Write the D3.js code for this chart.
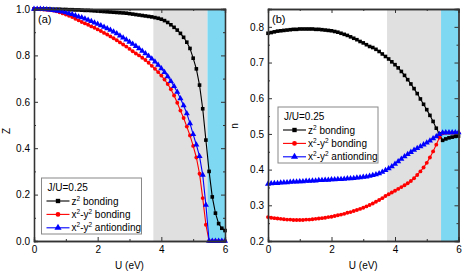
<!DOCTYPE html>
<html><head><meta charset="utf-8">
<script src="https://cdn.jsdelivr.net/npm/d3@7"></script>
<style>
body{margin:0;background:#fff;}
svg{display:block;font-family:"Liberation Sans",Arial,sans-serif;}
</style></head>
<body><svg id="c" width="463" height="273"></svg>
<script>
// ---- data ----
const U = [0.0,0.1,0.2,0.3,0.4,0.5,0.6,0.7,0.8,0.9,1.0,1.1,1.2,1.3,1.4,1.5,1.6,1.7,1.8,1.9,2.0,
  2.1,2.2,2.3,2.4,2.5,2.6,2.7,2.8,2.9,3.0,3.1,3.2,3.3,3.4,3.5,3.6,3.7,3.8,3.9,4.0,
  4.1,4.2,4.3,4.4,4.5,4.6,4.7,4.8,4.9,5.0,5.1,5.2,5.3,5.4,5.5,5.6,5.7,5.8,5.9,6.0];

const seriesNames = ["z² bonding", "x²-y² bonding", "x²-y² antionding"];
const legendTitle = "J/U=0.25";
const phaseBounds = [3.75, 5.45, 6.0]; // crossover (gray) and Mott (cyan) regions

// panel (a): quasiparticle weight Z
const Z_z2 = [1.000,1.000,1.000,1.000,1.000,1.000,0.999,0.999,0.999,0.998,0.998,
  0.997,0.997,0.996,0.996,0.995,0.994,0.994,0.993,0.992,0.991,
  0.990,0.989,0.988,0.987,0.986,0.985,0.984,0.983,0.982,0.980,
  0.978,0.976,0.974,0.972,0.970,0.968,0.966,0.963,0.960,0.956,
  0.950,0.942,0.932,0.921,0.909,0.895,0.878,0.857,0.830,0.788,
  0.742,0.672,0.570,0.435,0.300,0.190,0.120,0.075,0.055,0.045];
const Z_x2b = [1.000,1.000,0.999,0.998,0.997,0.995,0.993,0.990,0.986,0.981,0.976,
  0.971,0.965,0.958,0.951,0.944,0.938,0.932,0.925,0.919,0.912,
  0.905,0.897,0.890,0.882,0.874,0.865,0.856,0.847,0.838,0.828,
  0.818,0.808,0.800,0.790,0.780,0.768,0.755,0.742,0.728,0.713,
  0.696,0.677,0.654,0.627,0.596,0.562,0.530,0.493,0.455,0.410,
  0.360,0.290,0.185,0.070,0.000,0.000,0.000,0.000,0.000,0.000];
const Z_x2a = [1.000,1.000,1.000,0.999,0.998,0.997,0.995,0.993,0.991,0.988,0.985,
  0.981,0.977,0.972,0.967,0.963,0.958,0.953,0.947,0.941,0.935,
  0.929,0.922,0.916,0.909,0.902,0.894,0.885,0.876,0.867,0.858,
  0.849,0.840,0.830,0.819,0.808,0.797,0.786,0.773,0.759,0.744,
  0.727,0.709,0.689,0.667,0.642,0.614,0.584,0.550,0.507,0.460,
  0.415,0.365,0.285,0.155,0.000,0.000,0.000,0.000,0.000,0.000];

// panel (b): orbital occupation n
const n_z2 = [0.782,0.784,0.786,0.788,0.789,0.790,0.791,0.792,0.793,0.793,0.794,
  0.794,0.794,0.794,0.794,0.793,0.793,0.792,0.791,0.790,0.789,
  0.787,0.785,0.782,0.779,0.776,0.772,0.768,0.764,0.759,0.755,
  0.750,0.745,0.742,0.737,0.731,0.724,0.717,0.710,0.702,0.694,
  0.685,0.675,0.664,0.652,0.640,0.627,0.613,0.598,0.583,0.568,
  0.552,0.535,0.516,0.500,0.482,0.486,0.489,0.491,0.493,0.494];
const n_x2b = [0.267,0.265,0.264,0.263,0.262,0.261,0.260,0.260,0.259,0.259,0.259,
  0.259,0.260,0.260,0.261,0.262,0.263,0.264,0.265,0.267,0.268,
  0.270,0.272,0.274,0.276,0.279,0.281,0.284,0.287,0.290,0.293,
  0.297,0.301,0.305,0.310,0.315,0.320,0.326,0.331,0.336,0.341,
  0.346,0.351,0.356,0.362,0.368,0.376,0.385,0.395,0.406,0.419,
  0.434,0.451,0.470,0.490,0.502,0.503,0.503,0.503,0.503,0.503];
const n_x2a = [0.360,0.361,0.362,0.362,0.363,0.364,0.364,0.365,0.366,0.366,0.367,
  0.367,0.368,0.368,0.369,0.369,0.370,0.370,0.371,0.371,0.372,
  0.372,0.373,0.373,0.374,0.375,0.375,0.376,0.377,0.378,0.379,
  0.380,0.382,0.384,0.386,0.389,0.393,0.398,0.403,0.409,0.416,
  0.423,0.430,0.437,0.443,0.449,0.455,0.460,0.465,0.470,0.475,
  0.481,0.487,0.493,0.499,0.503,0.504,0.504,0.504,0.504,0.504];

const xTicks = [0, 2, 4, 6];
const xMinor = [1, 3, 5];
const yTicksA = [0.0, 0.2, 0.4, 0.6, 0.8, 1.0];
const yMinorA = [0.1, 0.3, 0.5, 0.7, 0.9];
const yTicksB = [0.2, 0.3, 0.4, 0.5, 0.6, 0.7, 0.8];
const yMinorB = [0.25, 0.35, 0.45, 0.55, 0.65, 0.75];

// ---- drawing ----
const svg = d3.select("#c");
const colors = ["#000000", "#ff0000", "#0000ff"];
const shapes = [d3.symbolSquare, d3.symbolCircle, d3.symbolTriangle];
const sizes = [13, 12, 16];
const frameColor = "#333";

function panel(opt) {
  const g = svg.append("g");
  const x = d3.scaleLinear().domain([0, 6]).range([opt.x0, opt.x1]);
  const y = d3.scaleLinear().domain(opt.ydom).range([opt.y1, opt.y0]);

  g.append("rect").attr("x", x(phaseBounds[0])).attr("y", opt.y0)
    .attr("width", x(phaseBounds[1]) - x(phaseBounds[0])).attr("height", opt.y1 - opt.y0)
    .attr("fill", "#e0e0e0");
  g.append("rect").attr("x", x(phaseBounds[1])).attr("y", opt.y0)
    .attr("width", x(phaseBounds[2]) - x(phaseBounds[1])).attr("height", opt.y1 - opt.y0)
    .attr("fill", "#7fd8f1");

  const fmtY = d3.format(".1f");
  const axes = [
    [d3.axisBottom(x).tickValues(xTicks).tickSize(-4).tickPadding(5).tickFormat(d3.format("d")), `translate(0,${opt.y1})`],
    [d3.axisBottom(x).tickValues(xMinor).tickSize(-2).tickFormat(""), `translate(0,${opt.y1})`],
    [d3.axisTop(x).tickValues(xTicks).tickSize(-4).tickFormat(""), `translate(0,${opt.y0})`],
    [d3.axisTop(x).tickValues(xMinor).tickSize(-2).tickFormat(""), `translate(0,${opt.y0})`],
    [d3.axisLeft(y).tickValues(opt.yt).tickSize(-4).tickPadding(4).tickFormat(fmtY), `translate(${opt.x0},0)`],
    [d3.axisLeft(y).tickValues(opt.ym).tickSize(-2).tickFormat(""), `translate(${opt.x0},0)`],
    [d3.axisRight(y).tickValues(opt.yt).tickSize(-4).tickFormat(""), `translate(${opt.x1},0)`],
    [d3.axisRight(y).tickValues(opt.ym).tickSize(-2).tickFormat(""), `translate(${opt.x1},0)`]
  ];

  opt.series.forEach((vals, i) => {
    const pts = U.map((u, k) => [u, vals[k]]);
    g.append("path").datum(pts)
      .attr("fill", "none").attr("stroke", colors[i]).attr("stroke-width", 1.1)
      .attr("d", d3.line().x(d => x(d[0])).y(d => y(d[1])));
    g.append("g").selectAll("path").data(pts).join("path")
      .attr("transform", d => `translate(${x(d[0])},${y(d[1])})`)
      .attr("d", d3.symbol().type(shapes[i]).size(sizes[i]))
      .attr("fill", colors[i]);
  });

  axes.forEach(([ax, tr]) => {
    const a = g.append("g").attr("transform", tr).call(ax);
    a.select(".domain").attr("stroke", frameColor).attr("stroke-width", 1.3);
    a.selectAll(".tick line").attr("stroke", frameColor).attr("stroke-width", 1);
    a.selectAll("text").attr("font-size", 10).attr("fill", "#000")
      .attr("font-family", "'Liberation Sans', Arial, sans-serif");
  });

  g.append("text").attr("x", opt.x0 + 4).attr("y", opt.y0 + 14)
    .attr("font-size", 11).text(opt.label);

  g.append("text").attr("x", (opt.x0 + opt.x1) / 2).attr("y", 269)
    .attr("text-anchor", "middle").attr("font-size", 10).text("U (eV)");
  g.append("text")
    .attr("transform", `translate(${opt.ylabX},${opt.ylabY}) rotate(-90)`)
    .attr("text-anchor", "middle").attr("font-size", 10).text(opt.ylabel);

  const lg = g.append("g").attr("transform", `translate(${opt.lx},${opt.ly})`);
  lg.append("rect").attr("x", 0).attr("y", 0).attr("width", 100).attr("height", 56)
    .attr("fill", "#fff").attr("stroke", "#888").attr("stroke-width", 1);
  lg.append("text").attr("x", 6).attr("y", 12.5).attr("font-size", 10).text(legendTitle);
  seriesNames.forEach((name, i) => {
    const yy = 23 + i * 13.4;
    lg.append("line").attr("x1", 5).attr("x2", 28).attr("y1", yy).attr("y2", yy)
      .attr("stroke", colors[i]).attr("stroke-width", 1.1);
    lg.append("path").attr("transform", `translate(16.5,${yy})`)
      .attr("d", d3.symbol().type(shapes[i]).size(sizes[i] + 6)).attr("fill", colors[i]);
    const t = lg.append("text").attr("x", 30).attr("y", yy + 3.6).attr("font-size", 10);
    const parts = name.split("²");
    parts.forEach((p, k) => {
      const ts = t.append("tspan").text(p);
      if (k > 0) ts.attr("dy", 4);
      if (k < parts.length - 1) {
        t.append("tspan").attr("font-size", 6.5).attr("dy", -4).text("2");
      }
    });
  });
}

panel({
  x0: 34, x1: 225, y0: 9, y1: 241, ydom: [0, 1.0],
  yt: yTicksA, ym: yMinorA, label: "(a)", ylabel: "Z", ylabX: 10, ylabY: 131,
  series: [Z_z2, Z_x2b, Z_x2a], lx: 41.5, ly: 178
});
panel({
  x0: 268, x1: 458.5, y0: 9, y1: 241, ydom: [0.2, 0.85],
  yt: yTicksB, ym: yMinorB, label: "(b)", ylabel: "n", ylabX: 238, ylabY: 126,
  series: [n_z2, n_x2b, n_x2a], lx: 278, ly: 107
});
</script></body></html>
